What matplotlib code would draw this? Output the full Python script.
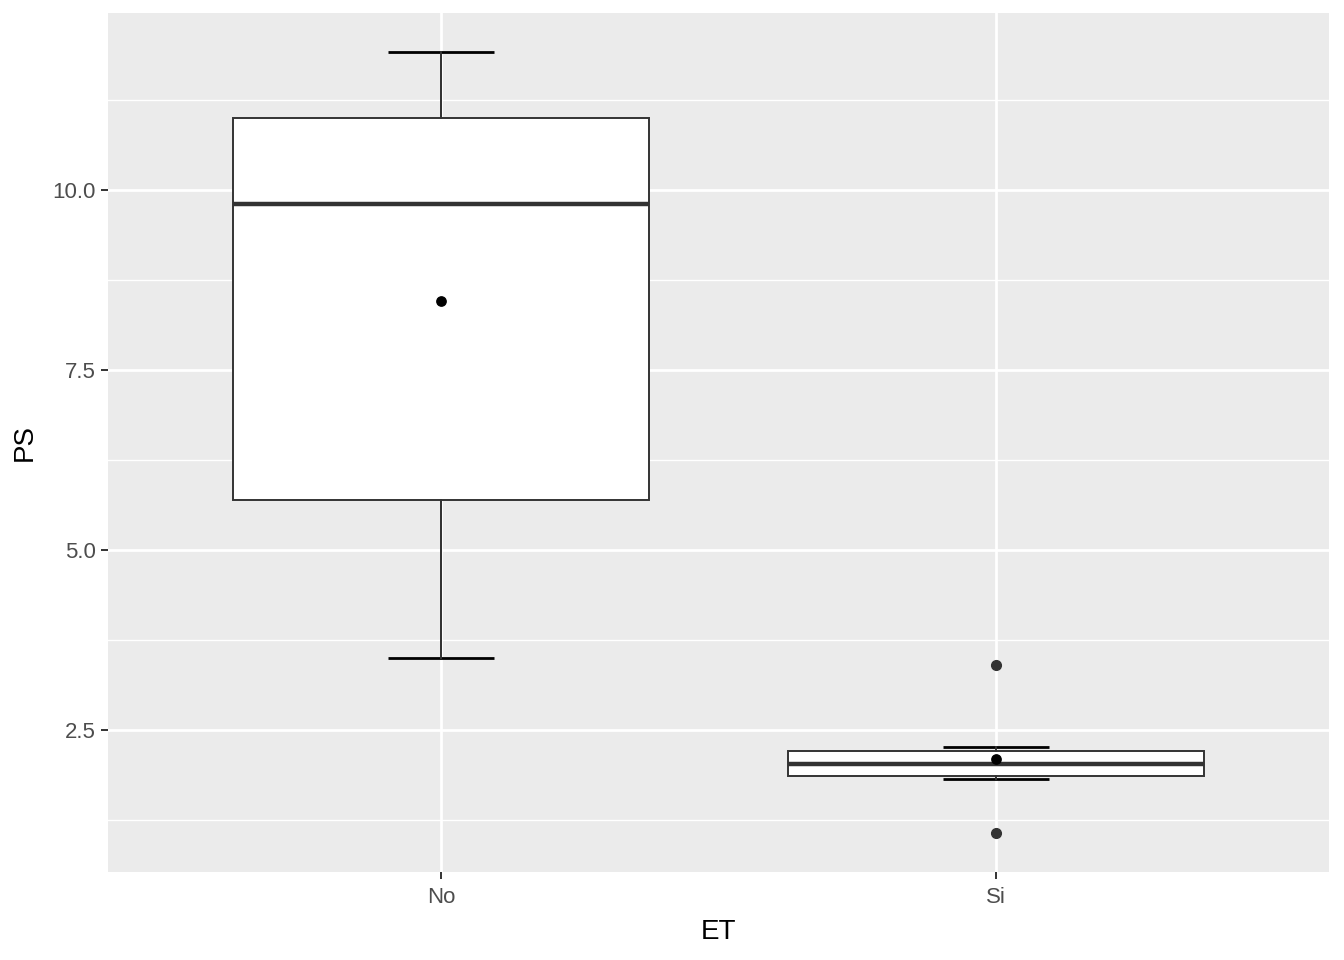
import matplotlib
matplotlib.use("Agg")
import matplotlib.pyplot as plt
import numpy as np

plt.rcParams['font.family'] = ['Liberation Sans', 'DejaVu Sans']

# data
groups = ['No', 'Si']
whisker_lo = [3.50, 1.82]
q1 = [5.69, 1.86]
median = [9.81, 2.03]
q3 = [11.01, 2.21]
whisker_hi = [11.92, 2.26]
means = [8.46, 2.10]
outliers = [[], [3.40, 1.07]]

stats = []
for i, g in enumerate(groups):
    stats.append(dict(label=g, whislo=whisker_lo[i], q1=q1[i], med=median[i],
                      q3=q3[i], whishi=whisker_hi[i], fliers=outliers[i]))

fig = plt.figure(figsize=(13.44, 9.6), dpi=100)
ax = fig.add_axes([108/1344, 88/960, 1221/1344, 859/960])
ax.set_facecolor('#EBEBEB')
for s in ax.spines.values():
    s.set_visible(False)

pos = np.arange(1, len(groups) + 1)

# errorbar-style whisker staples (black)
ax.vlines(pos, whisker_lo, whisker_hi, color='#333333', lw=1.4, zorder=2)
ax.hlines(whisker_lo, pos - 0.095, pos + 0.095, color='black', lw=2, zorder=2)
ax.hlines(whisker_hi, pos - 0.095, pos + 0.095, color='black', lw=2, zorder=2)

ax.bxp(stats, positions=pos, widths=0.75, patch_artist=True, showcaps=False,
       boxprops=dict(facecolor='white', edgecolor='#333333', lw=1.4),
       medianprops=dict(color='#333333', lw=3.2),
       whiskerprops=dict(color='#333333', lw=1.4),
       flierprops=dict(marker='o', markerfacecolor='#333333', markeredgecolor='#333333',
                       markersize=7),
       zorder=3)

ax.scatter(pos, means, s=45, color='black', zorder=4)

ax.set_xlim(0.4, 2.6)
lo = min(min(whisker_lo), min(min(o) for o in outliers if o))
hi = max(whisker_hi)
pad = (hi - lo) * 0.05
ax.set_ylim(lo - pad, hi + pad)

ax.set_yticks([2.5, 5.0, 7.5, 10.0])
ax.set_yticklabels(['2.5', '5.0', '7.5', '10.0'])
ax.set_yticks([1.25, 3.75, 6.25, 8.75, 11.25], minor=True)
ax.set_xticks(pos)
ax.set_xticklabels(groups)

ax.grid(True, which='major', color='white', lw=2)
ax.grid(True, which='minor', axis='y', color='white', lw=1)
ax.set_axisbelow(True)
ax.tick_params(axis='both', which='major', length=5, width=1.4, color='#333333',
               labelcolor='#4D4D4D', labelsize=16, pad=4)
ax.tick_params(axis='x', which='major', pad=6)
ax.tick_params(axis='y', which='minor', length=0)

ax.set_xlabel('ET', fontsize=20, labelpad=8)
ax.set_ylabel('PS', fontsize=20, labelpad=10)

fig.savefig('out.png', dpi=100)
